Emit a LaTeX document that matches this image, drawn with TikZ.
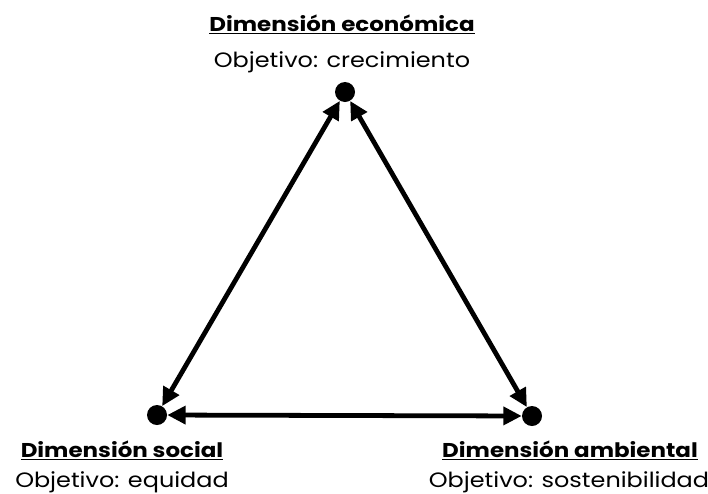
\documentclass[tikz,border=0pt]{standalone}
\usepackage{fontspec}
\setmainfont{Poppins}[FakeStretch=1.15]
\usetikzlibrary{arrows.meta,positioning}

\begin{document}
\begin{tikzpicture}[x=0.025cm, y=-0.025cm,
  dot/.style={circle, fill=black, inner sep=0pt, minimum size=0.5cm},
  dimtitle/.style={font=\fontsize{14.2}{16}\selectfont\bfseries, inner sep=0pt, anchor=base},
  dimgoal/.style={font=\fontsize{14.8}{17}\selectfont, inner sep=0pt, anchor=base},
  link/.style={{Triangle[length=13pt, width=12.5pt]}-{Triangle[length=13pt, width=12.5pt]}, line width=3.4pt}]
  \useasboundingbox (0,0) rectangle (708,493);
  % Corners of the triangle
  \node[dot] (econ) at (345,92) {};
  \node[dot] (social) at (157,415) {};
  \node[dot] (amb) at (532,416) {};
  % Labels
  \node[dimtitle] (econtitle) at (342,31) {\underline{Dimensión económica}};
  \node[dimgoal] (econgoal) at (342,67) {Objetivo: crecimiento};
  \node[dimtitle] (socialtitle) at (122,457) {\underline{Dimensión social}};
  \node[dimgoal] (socialgoal) at (122,487) {Objetivo: equidad};
  \node[dimtitle] (ambtitle) at (570,457) {\underline{Dimensión ambiental}};
  \node[dimgoal] (ambgoal) at (569,487) {Objetivo: sostenibilidad};
  % Arrows
  \draw[link] (econ) -- (social);
  \draw[link] (econ) -- (amb);
  \draw[link] (social) -- (amb);
\end{tikzpicture}
\end{document}
